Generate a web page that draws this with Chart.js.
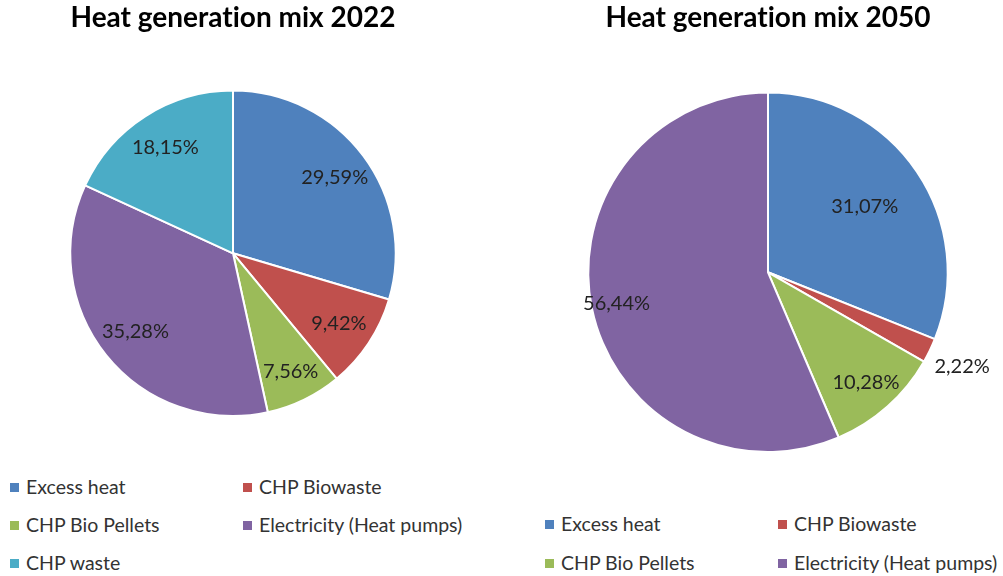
<!DOCTYPE html>
<html>
<head>
<meta charset="utf-8">
<script src="https://cdn.jsdelivr.net/npm/chart.js@4/dist/chart.umd.min.js"></script>
<style>
  body { margin: 0; background: #fff; width: 1003px; height: 576px; position: relative; overflow: hidden; font-family: Lato, 'Open Sans', sans-serif; }
  canvas { position: absolute; }
  #pie2022 { left: 0; top: 0; }
  #pie2050 { left: 533px; top: 0; }
  .legend { position: absolute; font-size: 19.5px; color: #333; }
  .legend .item { position: absolute; white-space: nowrap; line-height: 22px; }
  .legend .box { display: inline-block; width: 9px; height: 9px; margin-right: 7px; vertical-align: 2px; }
</style>
</head>
<body>
<canvas id="pie2022" width="466" height="470"></canvas>
<canvas id="pie2050" width="470" height="470"></canvas>
<div class="legend" id="legend2022"></div>
<div class="legend" id="legend2050"></div>
<script>
// heat sources and their share of generation (%)
const sources2022 = ['Excess heat', 'CHP Biowaste', 'CHP Bio Pellets', 'Electricity (Heat pumps)', 'CHP waste']
const shares2022 = [29.59, 9.42, 7.56, 35.28, 18.15]

const sources2050 = ['Excess heat', 'CHP Biowaste', 'CHP Bio Pellets', 'Electricity (Heat pumps)']
const shares2050 = [31.07, 2.22, 10.28, 56.44]

// one colour per source, same order as the source arrays
const sourceColors = ['#4F81BD', '#C0504D', '#9BBB59', '#8064A2', '#4BACC6']

const fontFamily = "Lato, 'Open Sans', sans-serif"

// zero-width non-joiner keeps Lato from drawing its "ti" ligature
const noLig = s => s.replace(/ti/g, 't\u200Ci')

// writes the share of each slice at a fraction of the radius along its middle angle
const sliceLabels = {
     id: 'sliceLabels',
     afterDatasetsDraw(chart, args, opts) {
          const ctx = chart.ctx
          const meta = chart.getDatasetMeta(0)
          const values = chart.data.datasets[0].data
          ctx.save()
          ctx.font = `${opts.size}px ${fontFamily}`
          ctx.fillStyle = opts.color
          ctx.textAlign = 'center'
          ctx.textBaseline = 'middle'
          meta.data.forEach((arc, i) => {
               const p = arc.getProps(['x', 'y', 'startAngle', 'endAngle', 'outerRadius'], true)
               const mid = (p.startAngle + p.endAngle) / 2
               const r = p.outerRadius * opts.radius[i]
               const text = values[i].toFixed(2).replace('.', ',') + '%'
               ctx.fillText(text, p.x + Math.cos(mid) * r, p.y + Math.sin(mid) * r)
          })
          ctx.restore()
     }
}

function makePie(canvasId, title, labels, values, padding, titleGap, labelRadius) {
     return new Chart(document.getElementById(canvasId), {
          type: 'pie',
          data: {
               labels: labels,
               datasets: [{
                    data: values,
                    backgroundColor: sourceColors.slice(0, values.length),
                    borderColor: '#ffffff',
                    borderWidth: 2
               }]
          },
          options: {
               responsive: false,
               animation: false,
               layout: { padding: padding },
               plugins: {
                    legend: { display: false },
                    tooltip: { enabled: false },
                    title: {
                         display: true,
                         text: noLig(title),
                         color: '#000',
                         font: { family: fontFamily, size: 28, weight: 'bold' },
                         padding: { top: 1, bottom: titleGap }
                    },
                    sliceLabels: { size: 20, color: '#222', radius: labelRadius }
               }
          },
          plugins: [sliceLabels]
     })
}

// title line is 28 * 1.2 = 33.6px tall, so the gap sets where the pie starts
const chart2022 = makePie('pie2022', 'Heat generation mix 2022', sources2022, shares2022,
     { top: 0, bottom: 53, left: 69, right: 69 }, 55, [0.78, 0.78, 0.81, 0.77, 0.77])
const chart2050 = makePie('pie2050', 'Heat generation mix 2050', sources2050, shares2050,
     { top: 0, bottom: 17, left: 54, right: 54 }, 57, [0.65, 1.2, 0.82, 0.86])

// legends laid out in two columns under each pie
function buildLegend(id, labels, left, top, colGap, rowGap) {
     const holder = document.getElementById(id)
     labels.forEach((label, i) => {
          const item = document.createElement('div')
          item.className = 'item'
          item.style.left = (left + (i % 2) * colGap) + 'px'
          item.style.top = (top + Math.floor(i / 2) * rowGap) + 'px'
          item.innerHTML = `<span class="box" style="background:${sourceColors[i]}"></span>${label}`
          holder.appendChild(item)
     })
}

buildLegend('legend2022', sources2022, 10, 476, 233, 38)
buildLegend('legend2050', sources2050, 545, 513, 233, 39)
</script>
</body>
</html>
